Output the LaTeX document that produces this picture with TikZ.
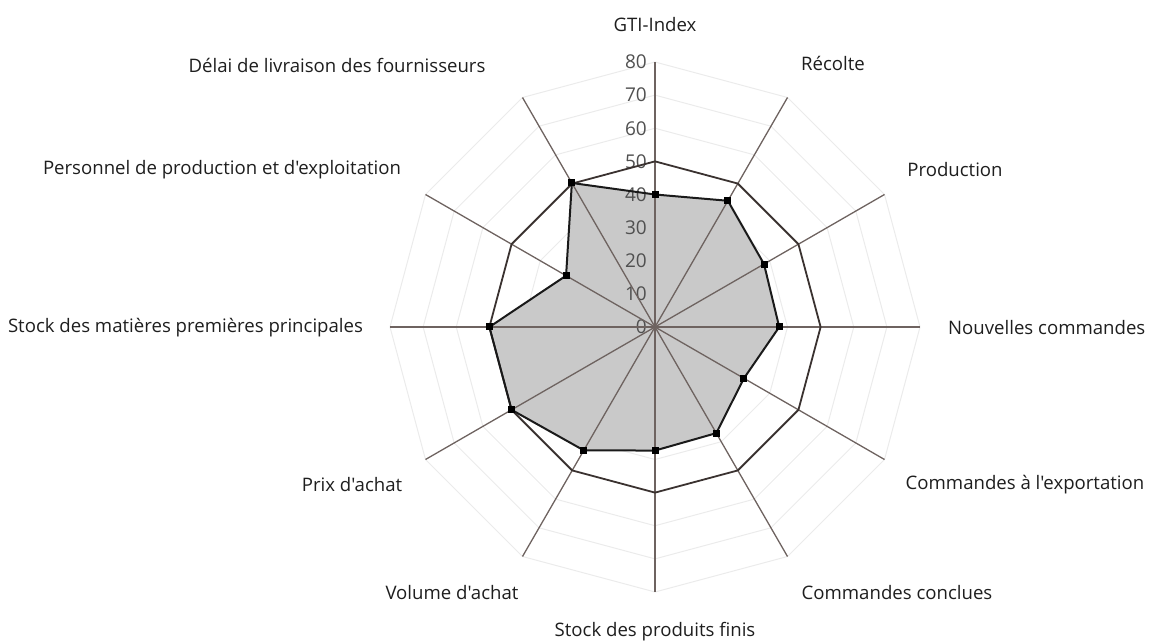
\documentclass[tikz,border=0pt]{standalone}
\usepackage{fontspec}
\setmainfont{Open Sans}[Ligatures=TeXOff]
\definecolor{axiscol}{HTML}{6E6360}
\definecolor{gridcol}{HTML}{EBEBEB}
\definecolor{refcol}{HTML}{3A3230}
\definecolor{datacol}{HTML}{1A1A1A}
\definecolor{fillcol}{HTML}{C9C9C9}
\definecolor{numcol}{HTML}{505050}
\definecolor{labcol}{HTML}{1E1E1E}
\begin{document}
\begin{tikzpicture}[x=1pt,y=1pt,
  gridline/.style={draw=gridcol,line width=1pt},
  axisline/.style={draw=axiscol,line width=1.3pt},
  refline/.style={draw=refcol,line width=1.8pt,line join=miter},
  dataline/.style={draw=datacol,line width=2pt,line join=miter},
  datafill/.style={fill=fillcol},
  marker/.style={fill=black,minimum size=7pt,inner sep=0pt,outer sep=0pt,rectangle},
  numlab/.style={text=numcol,font=\fontsize{19}{19}\selectfont,anchor=east,inner sep=0pt},
  catlab/.style={text=labcol,font=\fontsize{18.6}{19}\selectfont,inner sep=0pt}
]
\useasboundingbox (0,0) rectangle (1152,643);
\def\u{3.3125}
\begin{scope}[shift={(655,316)}]
  \coordinate (O) at (0,0);
  % grid polygons
  \foreach \r in {10,20,30,40,60,70,80} {
    \draw[gridline] (90:{\r*\u}) \foreach \a in {60,30,...,-240} { -- (\a:{\r*\u}) } -- cycle;
  }
  % data fill
  \fill[datafill] (90:{40*\u}) -- (60:{44*\u}) -- (30:{38*\u}) -- (0:{37.5*\u})
    -- (-30:{31*\u}) -- (-60:{37*\u}) -- (-90:{37.3*\u}) -- (-120:{43*\u})
    -- (-150:{50*\u}) -- (180:{50*\u}) -- (150:{31*\u}) -- (120:{50.2*\u}) -- cycle;
  % axis ends
  \foreach \a/\n in {90/gti,60/rec,30/prod,0/nouv,-30/exp,-60/concl,-90/fini,-120/vol,-150/prix,180/mat,150/pers,120/delai} {
    \coordinate (e-\n) at (\a:{80*\u});
  }
  % number labels
  \foreach \v in {0,10,...,80} {
    \node[numlab] (n\v) at (-8,{\v*\u}) {\v};
  }
  % axes
  \foreach \n in {gti,rec,prod,nouv,exp,concl,fini,vol,prix,mat,pers,delai} {
    \draw[axisline] (O) -- (e-\n);
  }
  % reference polygon at 50
  \draw[refline] (90:{50*\u}) \foreach \a in {60,30,...,-240} { -- (\a:{50*\u}) } -- cycle;
  % data points
  \foreach \a/\v/\n in {90/40/gti,60/44/rec,30/38/prod,0/37.5/nouv,-30/31/exp,-60/37/concl,-90/37.3/fini,-120/43/vol,-150/50/prix,180/50/mat,150/31/pers,120/50.2/delai} {
    \coordinate (d-\n) at (\a:{\v*\u});
  }
  \draw[dataline] (d-gti) -- (d-rec) -- (d-prod) -- (d-nouv) -- (d-exp) -- (d-concl)
    -- (d-fini) -- (d-vol) -- (d-prix) -- (d-mat) -- (d-pers) -- (d-delai) -- cycle;
  \foreach \n in {gti,rec,prod,nouv,exp,concl,fini,vol,prix,mat,pers,delai} {
    \node[marker] (m-\n) at (d-\n) {};
  }
\end{scope}
% category labels (image y converted: 643 - y)
\node[catlab] (l-gti) at (655,618) {GTI-Index};
\node[catlab] (l-rec) at (833,580) {Récolte};
\node[catlab] (l-prod) at (955,473) {Production};
\node[catlab,anchor=west] (l-nouv) at (948,315) {Nouvelles commandes};
\node[catlab] (l-exp) at (1025,158) {Commandes à l'exportation};
\node[catlab] (l-concl) at (897,50) {Commandes conclues};
\node[catlab] (l-fini) at (655,11) {Stock des produits finis};
\node[catlab] (l-vol) at (452,50) {Volume d'achat};
\node[catlab] (l-prix) at (352,158) {Prix d'achat};
\node[catlab] (l-mat) at (185.5,315) {Stock des matières premières principales};
\node[catlab] (l-pers) at (222,473) {Personnel de production et d'exploitation};
\node[catlab] (l-delai) at (337,578) {Délai de livraison des fournisseurs};
\end{tikzpicture}
\end{document}
